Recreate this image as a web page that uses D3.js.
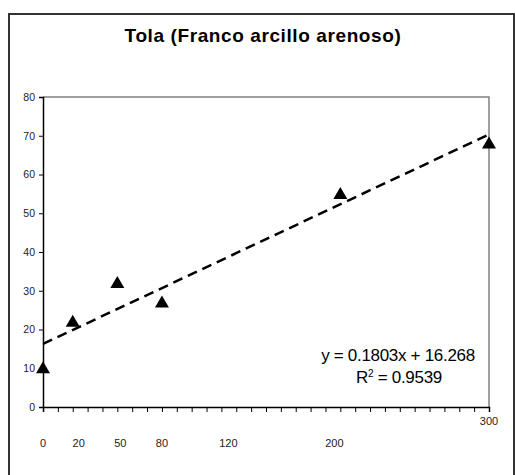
<!DOCTYPE html>
<html>
<head>
<meta charset="utf-8">
<script src="https://cdn.jsdelivr.net/npm/d3@7"></script>
<style>
  body { margin: 0; background: #fff; }
  svg text { font-family: Arial, "Liberation Sans", sans-serif; }
</style>
</head>
<body>
<div id="svg"></div>
<script>
const title = 'Tola (Franco arcillo arenoso)'
const xValues = [0, 20, 50, 80, 200, 300]
const yValues = [10, 22, 32, 27, 55, 68]
const xTickLabels = [0, 20, 50, 80, 120, 200, 300]
const yTicks = [0, 10, 20, 30, 40, 50, 60, 70, 80]
const slope = 0.1803
const intercept = 16.268
const eqText = 'y = 0.1803x + 16.268'
const r2Text = '0.9539'

const margin = {top: 97, left: 43}
const width = 446
const height = 310

const xscale = d3.scaleLinear().domain([0, 300]).range([0, width])
const yscale = d3.scaleLinear().domain([0, 80]).range([height, 0])

const root = d3.select('#svg').append('svg')
  .attr('width', 515)
  .attr('height', 475)

// outer frame
root.append('rect')
  .attr('x', 9).attr('y', 14)
  .attr('width', 505).attr('height', 480)
  .attr('fill', 'none')
  .attr('stroke', '#333')
  .attr('stroke-width', 2)

root.append('text')
  .attr('x', 263).attr('y', 42)
  .attr('text-anchor', 'middle')
  .style('font-size', '19px')
  .style('font-weight', 'bold')
  .style('letter-spacing', '0.6px')
  .text(title)

const svg = root.append('g')
  .attr('transform', `translate(${margin.left},${margin.top})`)

// plot frame top and right
svg.append('path')
  .attr('d', `M0,0H${width}V${height}`)
  .attr('fill', 'none')
  .attr('stroke', '#808080')
  .attr('stroke-width', 1.5)

// y axis
const leftAxis = d3.axisLeft(yscale).tickValues(yTicks).tickSize(4).tickPadding(4)
const gy = svg.append('g').call(leftAxis)
gy.select('.domain').attr('stroke', '#000').attr('stroke-width', 1.5)
gy.selectAll('.tick line').attr('stroke', '#000')
gy.selectAll('text').style('font-size', '10.5px').attr('fill', '#222')

// x axis: minor ticks every 10
const bottomAxis = d3.axisBottom(xscale).tickValues(d3.range(0, 301, 10)).tickSize(5).tickFormat('')
const gx = svg.append('g').attr('transform', `translate(0,${height})`).call(bottomAxis)
gx.select('.domain').attr('stroke', '#000').attr('stroke-width', 1.5)
gx.selectAll('.tick line').attr('stroke', '#000')

// x tick labels
svg.append('g')
  .selectAll('text')
  .data(xTickLabels)
  .enter()
  .append('text')
    .attr('x', d => xscale(d) + (d === 20 ? 6 : d === 120 ? 7 : d === 200 ? -6 : d === 50 ? 3 : 0))
    .attr('y', d => d === 300 ? height + 18 : height + 40)
    .attr('text-anchor', 'middle')
    .style('font-size', '11px')
    .attr('fill', '#222')
    .text(d => d)

// trend line
svg.append('line')
  .attr('x1', xscale(0)).attr('y1', yscale(intercept))
  .attr('x2', xscale(300)).attr('y2', yscale(slope * 300 + intercept))
  .attr('stroke', '#000')
  .attr('stroke-width', 2.5)
  .attr('stroke-dasharray', '10,6')

// points
svg.append('g')
  .selectAll('path')
  .data(xValues.map((x, i) => ({x: x, y: yValues[i]})))
  .enter()
  .append('path')
    .attr('transform', d => `translate(${xscale(d.x)},${yscale(d.y)})`)
    .attr('d', 'M0,-7L7,5L-7,5Z')
    .attr('fill', '#000')

// equation
root.append('text')
  .attr('x', 398).attr('y', 361)
  .attr('text-anchor', 'middle')
  .style('font-size', '17px')
  .style('letter-spacing', '-0.3px')
  .text(eqText)

const r2 = root.append('text')
  .attr('x', 399).attr('y', 383)
  .attr('text-anchor', 'middle')
  .style('font-size', '17px')
  .style('letter-spacing', '-0.3px')
r2.append('tspan').text('R')
r2.append('tspan').attr('dy', -6).style('font-size', '10px').text('2')
r2.append('tspan').attr('dy', 6).text(' = ' + r2Text)
</script>
</body>
</html>
